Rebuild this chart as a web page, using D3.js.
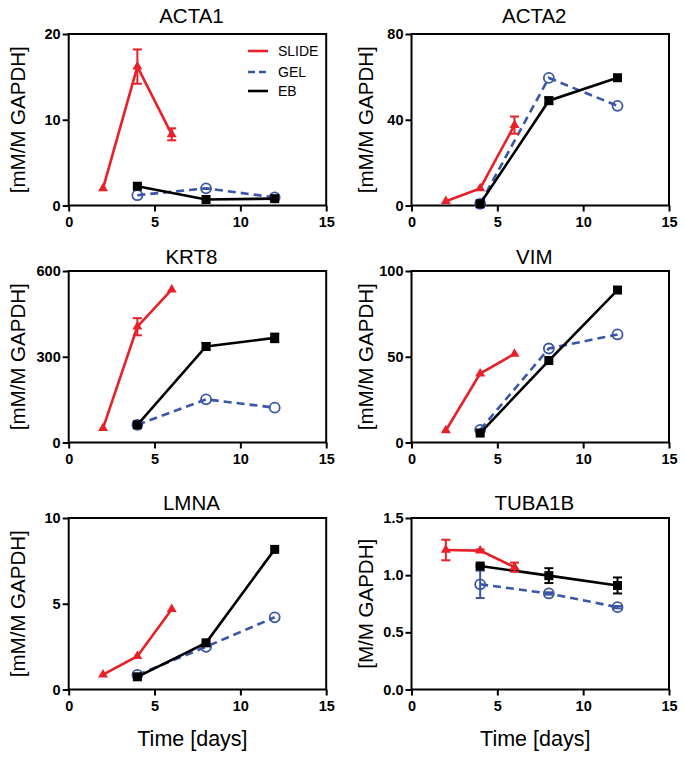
<!DOCTYPE html>
<html>
<head>
<meta charset="utf-8">
<script src="https://cdn.jsdelivr.net/npm/d3@7/dist/d3.min.js"></script>
<style>
  html, body { margin: 0; padding: 0; background: #fff; }
  svg { display: block; }
  text { font-family: Arial, "Liberation Sans", Helvetica, sans-serif; }
</style>
</head>
<body>
<svg id="chart" width="684" height="757"></svg>
<script>
// ---------------- DATA ----------------
const genes = ["ACTA1", "ACTA2", "KRT8", "VIM", "LMNA", "TUBA1B"];
const yLabels = ["[mM/M GAPDH]", "[mM/M GAPDH]", "[mM/M GAPDH]", "[mM/M GAPDH]", "[mM/M GAPDH]", "[M/M GAPDH]"];
const yMax = [20, 80, 600, 100, 10, 1.5];
const yTicks = [[0, 10, 20], [0, 40, 80], [0, 300, 600], [0, 50, 100], [0, 5, 10], [0, 0.5, 1.0, 1.5]];
const xTicks = [0, 5, 10, 15];
const xLabel = "Time [days]";

const seriesNames = ["SLIDE", "GEL", "EB"];
const slideDays = [2, 4, 6];
const gelDays = [4, 8, 12];
const ebDays = [4, 8, 12];

const slideValues = [[2.0, 16.2, 8.3], [2.0, 8.0, 37.5], [50, 405, 535], [7.0, 40.2, 51.7], [0.87, 1.94, 4.68], [1.22, 1.215, 1.07]];
const slideErr    = [[0, 2.0, 0.7], [0, 0, 4.0], [0, 30, 0], [0, 0, 0], [0, 0, 0], [0.09, 0.01, 0.04]];
const gelValues   = [[1.2, 2.0, 0.95], [0.8, 59.5, 46.5], [62, 151, 122], [7.4, 54.8, 63.0], [0.85, 2.49, 4.21], [0.92, 0.84, 0.72]];
const gelErr      = [[0, 0, 0], [0, 0, 0], [0, 0, 0], [0, 0, 0], [0, 0, 0], [0.12, 0.01, 0.01]];
const ebValues    = [[2.25, 0.7, 0.8], [0.8, 48.9, 59.6], [62, 336, 366], [5.5, 47.8, 88.9], [0.74, 2.72, 8.17], [1.08, 0.996, 0.91]];
const ebErr       = [[0, 0, 0], [0, 1.5, 0], [0, 12, 15], [0, 0, 0], [0, 0, 0], [0.01, 0.065, 0.07]];

// ---------------- LAYOUT ----------------
const RED = "#e8202a", BLUE = "#3b56a6", BLACK = "#000";
const colX = [68.7, 411.5];
const rowY = [34, 271, 518];
const pw = 257.5, ph = 171.5;
const titleBase = [23, 264, 510];

const svg = d3.select("#chart");

genes.forEach((gene, i) => {
  const col = i % 2, row = Math.floor(i / 2);
  const x0 = colX[col], y0 = rowY[row];
  const g = svg.append("g").attr("transform", `translate(${x0},${y0})`);

  const x = d3.scaleLinear().domain([0, 15]).range([0, pw]);
  const y = d3.scaleLinear().domain([0, yMax[i]]).range([ph, 0]);

  // axes
  const fmtY = i === 5 ? d3.format(".1f") : d3.format("d");
  const ya = g.append("g").call(d3.axisLeft(y).tickValues(yTicks[i]).tickFormat(fmtY).tickSize(6).tickSizeOuter(0).tickPadding(2));
  const xa = g.append("g").attr("transform", `translate(0,${ph})`)
    .call(d3.axisBottom(x).tickValues(xTicks).tickFormat(d3.format("d")).tickSize(6).tickSizeOuter(0).tickPadding(5));
  [ya, xa].forEach(a => {
    a.selectAll("path.domain").remove();
    a.selectAll("line").attr("stroke", "#000").attr("stroke-width", 2);
    a.selectAll("text").attr("font-size", 14.5).attr("font-weight", "bold").attr("fill", "#000");
  });

  // frame
  g.append("rect").attr("x", 0).attr("y", 0).attr("width", pw).attr("height", ph)
    .attr("fill", "none").attr("stroke", "#000").attr("stroke-width", 2);

  // title
  svg.append("text").attr("x", x0 + pw / 2 - 6).attr("y", titleBase[row])
    .attr("text-anchor", "middle").attr("font-size", 20.5).text(gene);

  // y label
  const lx = col === 0 ? 25 : 372.5;
  svg.append("text").attr("transform", `translate(${lx},${y0 + ph / 2}) rotate(-90)`)
    .attr("text-anchor", "middle").attr("font-size", 20.5).text(yLabels[i]);

  // x label
  if (row === 2) {
    svg.append("text").attr("x", x0 + pw / 2 - 5).attr("y", 746)
      .attr("text-anchor", "middle").attr("font-size", 21.5).text(xLabel);
  }

  const series = [
    { name: "GEL", days: gelDays, vals: gelValues[i], errs: gelErr[i], color: BLUE, dash: "8,5", marker: "circle" },
    { name: "EB", days: ebDays, vals: ebValues[i], errs: ebErr[i], color: BLACK, dash: null, marker: "square" },
    { name: "SLIDE", days: slideDays, vals: slideValues[i], errs: slideErr[i], color: RED, dash: null, marker: "triangle" }
  ];

  const line = d3.line().x(d => x(d.d)).y(d => y(d.v));

  series.forEach(s => {
    const pts = s.days.map((d, k) => ({ d, v: s.vals[k], e: s.errs[k] }));
    const sg = g.append("g");
    // error bars
    pts.filter(p => p.e > 0).forEach(p => {
      const cx = x(p.d), yt = y(p.v + p.e), yb = y(p.v - p.e);
      sg.append("line").attr("x1", cx).attr("x2", cx).attr("y1", yt).attr("y2", yb)
        .attr("stroke", s.color).attr("stroke-width", 2);
      [yt, yb].forEach(yy => sg.append("line").attr("x1", cx - 4.5).attr("x2", cx + 4.5)
        .attr("y1", yy).attr("y2", yy).attr("stroke", s.color).attr("stroke-width", 2));
    });
    sg.append("path").datum(pts).attr("d", line).attr("fill", "none")
      .attr("stroke", s.color).attr("stroke-width", 2.6)
      .attr("stroke-dasharray", s.dash);
    pts.forEach(p => {
      const cx = x(p.d), cy = y(p.v);
      if (s.marker === "circle") {
        sg.append("circle").attr("cx", cx).attr("cy", cy).attr("r", 5)
          .attr("fill", "none").attr("stroke", s.color).attr("stroke-width", 1.8);
      } else if (s.marker === "square") {
        sg.append("rect").attr("x", cx - 4.5).attr("y", cy - 4.5).attr("width", 9).attr("height", 9)
          .attr("fill", s.color);
      } else {
        const h = 8.5, w = 5;
        sg.append("path").attr("d", `M${cx},${cy - h * 2 / 3}L${cx + w},${cy + h / 3}L${cx - w},${cy + h / 3}Z`)
          .attr("fill", s.color);
      }
    });
  });

  // legend
  if (i === 0) {
    const leg = [
      { name: "SLIDE", color: RED, dash: null, ly: 51 },
      { name: "GEL", color: BLUE, dash: "7,4", ly: 72 },
      { name: "EB", color: BLACK, dash: null, ly: 91 }
    ];
    leg.forEach(l => {
      svg.append("line").attr("x1", 248).attr("x2", 268).attr("y1", l.ly).attr("y2", l.ly)
        .attr("stroke", l.color).attr("stroke-width", 2.6).attr("stroke-dasharray", l.dash);
      svg.append("text").attr("x", 278).attr("y", l.ly + 5).attr("font-size", 14).text(l.name);
    });
  }
});
</script>
</body>
</html>
